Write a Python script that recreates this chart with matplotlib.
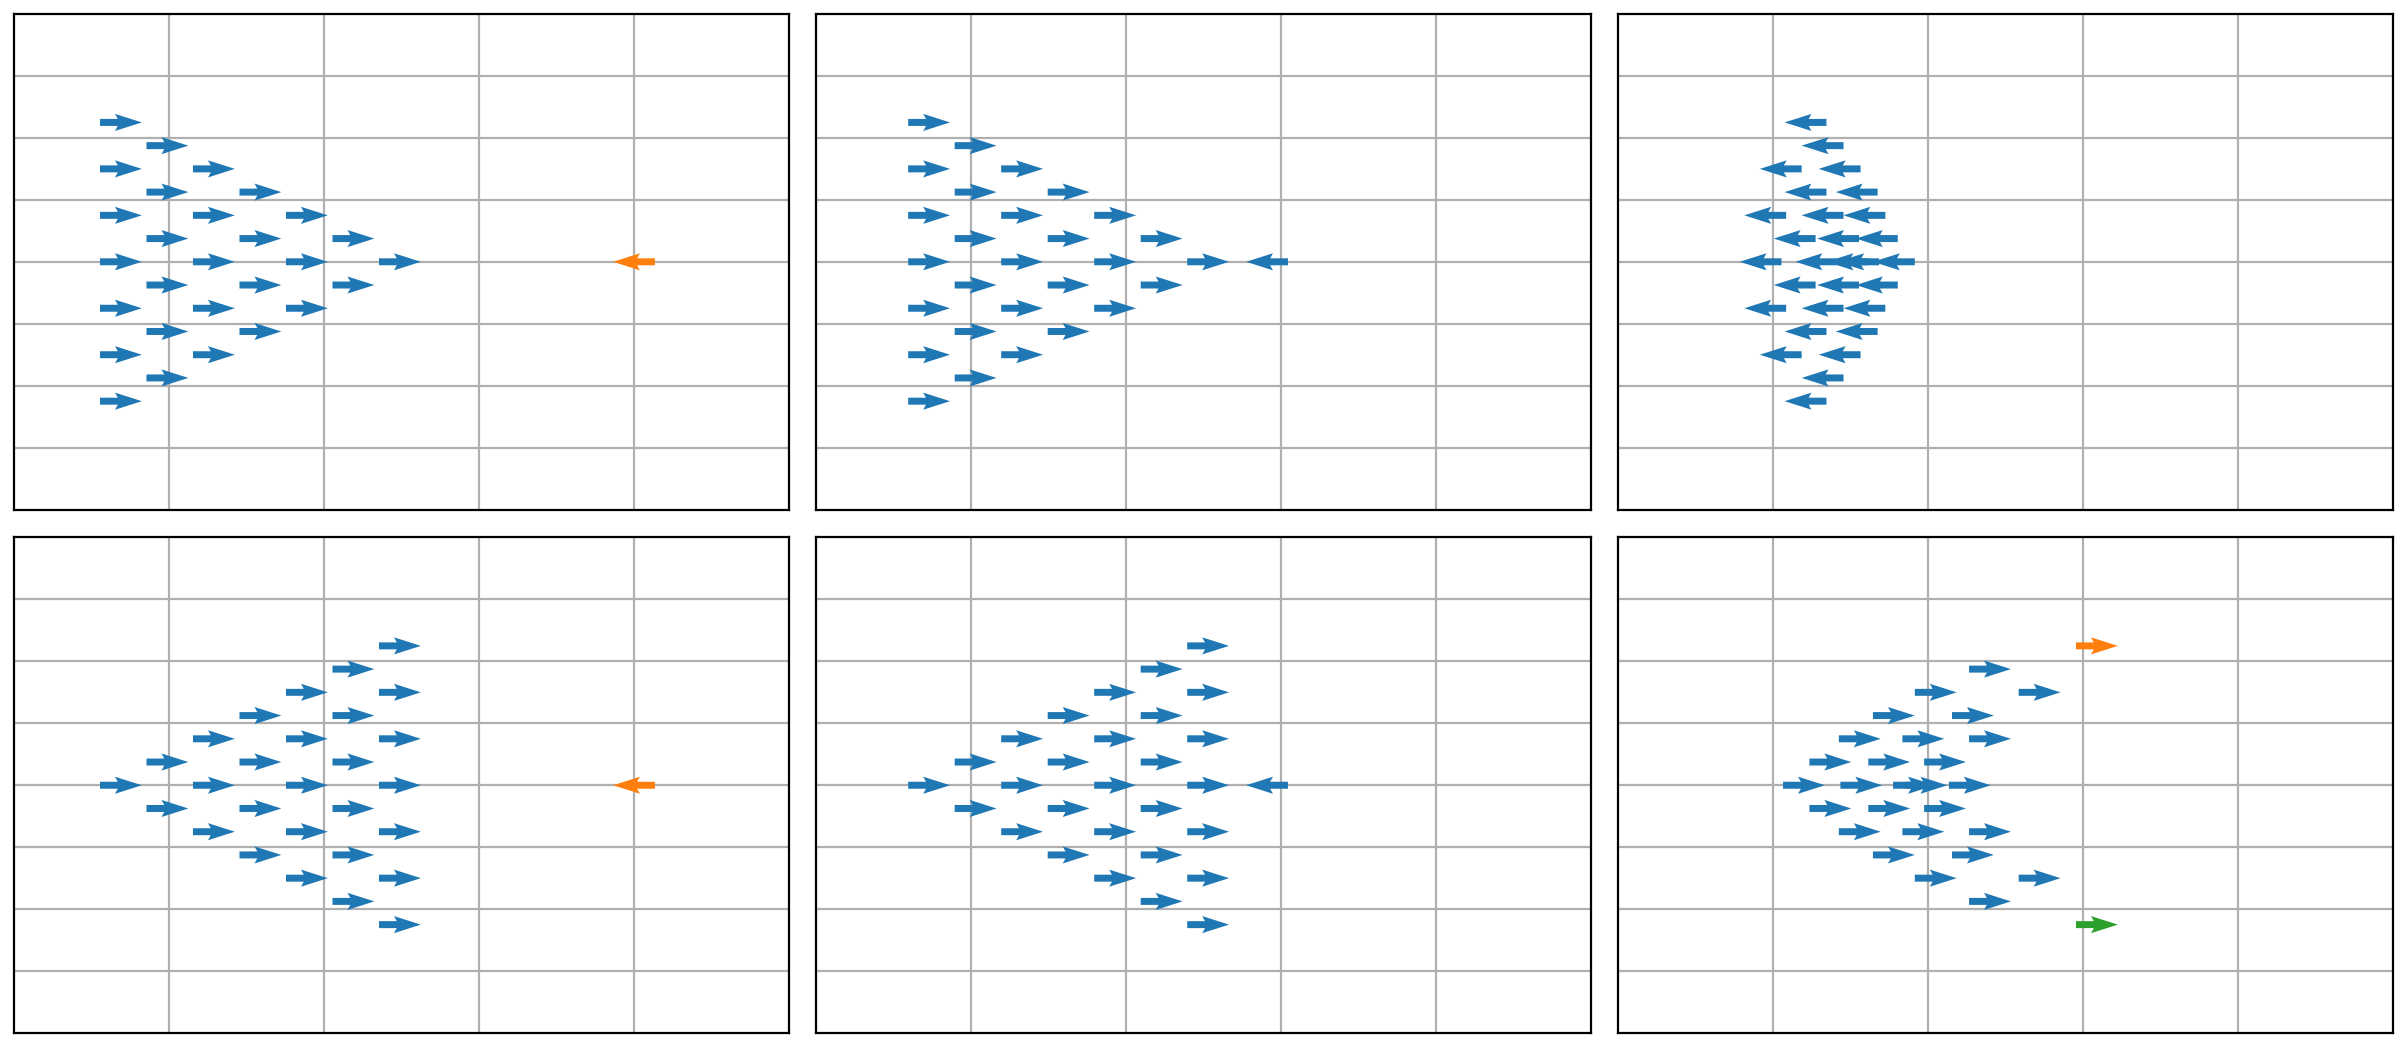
import numpy as np
import matplotlib
matplotlib.use('Agg')
import matplotlib.pyplot as plt

# Arrow positions read off the six snapshots (x, y, heading sign)
# panel 1: forward triangle, predator approaching from the right
p1_x = [0.69, 0.69, 0.69, 0.69, 0.69, 0.69, 0.69,
        0.99, 0.99, 0.99, 0.99, 0.99, 0.99,
        1.29, 1.29, 1.29, 1.29, 1.29,
        1.59, 1.59, 1.59, 1.59,
        1.89, 1.89, 1.89,
        2.19, 2.19,
        2.49]
p1_y = [2.25, 1.5, 0.75, 0.0, -0.75, -1.5, -2.25,
        1.875, 1.125, 0.375, -0.375, -1.125, -1.875,
        1.5, 0.75, 0.0, -0.75, -1.5,
        1.125, 0.375, -0.375, -1.125,
        0.75, 0.0, -0.75,
        0.375, -0.375,
        0.0]
p1_pred_x = [4.0]
p1_pred_y = [0.0]

# panel 2: same school a little further, predator (blue) close by
p2_x = [v + 0.04 for v in p1_x] + [2.91]
p2_y = p1_y + [0.0]
p2_dir = [1] * len(p1_x) + [-1]

# panel 3: school turned round and bunched up
p3_x = [1.21, 1.32, 1.05, 1.43, 1.21, 1.54, 0.95, 1.32, 1.59, 1.14, 1.42, 1.67,
        0.92, 1.28, 1.48, 1.55, 1.78,
        1.14, 1.42, 1.67, 0.95, 1.32, 1.59, 1.21, 1.54, 1.05, 1.43, 1.32, 1.21]
p3_y = [2.25, 1.875, 1.5, 1.5, 1.125, 1.125, 0.75, 0.75, 0.75, 0.375, 0.375, 0.375,
        0.0, 0.0, 0.0, 0.0, 0.0,
        -0.375, -0.375, -0.375, -0.75, -0.75, -0.75, -1.125, -1.125, -1.5, -1.5,
        -1.875, -2.25]

# panel 4: reversed triangle, predator on the right
p4_x = [0.69,
        0.99, 0.99,
        1.29, 1.29, 1.29,
        1.59, 1.59, 1.59, 1.59,
        1.89, 1.89, 1.89, 1.89, 1.89,
        2.19, 2.19, 2.19, 2.19, 2.19, 2.19,
        2.49, 2.49, 2.49, 2.49, 2.49, 2.49, 2.49]
p4_y = [0.0,
        0.375, -0.375,
        0.75, 0.0, -0.75,
        1.125, 0.375, -0.375, -1.125,
        1.5, 0.75, 0.0, -0.75, -1.5,
        1.875, 1.125, 0.375, -0.375, -1.125, -1.875,
        2.25, 1.5, 0.75, 0.0, -0.75, -1.5, -2.25]
p4_pred_x = [4.0]
p4_pred_y = [0.0]

# panel 5: reversed triangle moved on, predator (blue) close by
p5_x = [v + 0.04 for v in p4_x] + [2.91]
p5_y = p4_y + [0.0]
p5_dir = [1] * len(p4_x) + [-1]

# panel 6: school bunched, two highlighted fish
p6_x = [2.40, 2.05, 2.72, 1.78, 2.29, 1.56, 1.97, 2.40, 1.37, 1.75, 2.11,
        1.20, 1.57, 1.91, 1.99, 2.27,
        1.37, 1.75, 2.11, 1.56, 1.97, 2.40, 1.78, 2.29, 2.05, 2.72, 2.40]
p6_y = [1.875, 1.5, 1.5, 1.125, 1.125, 0.75, 0.75, 0.75, 0.375, 0.375, 0.375,
        0.0, 0.0, 0.0, 0.0, 0.0,
        -0.375, -0.375, -0.375, -0.75, -0.75, -0.75, -1.125, -1.125, -1.5, -1.5,
        -1.875]
p6_orange_x = [3.09]
p6_orange_y = [2.25]
p6_green_x = [3.09]
p6_green_y = [-2.25]

ARROW_LEN = 0.27


def arrows(ax, x, y, direction, color):
    x = np.asarray(x, dtype=float)
    y = np.asarray(y, dtype=float)
    u = ARROW_LEN * np.asarray(direction, dtype=float) * np.ones_like(x)
    v = np.zeros_like(x)
    ax.quiver(x, y, u, v, color=color, pivot='middle', angles='xy',
              scale_units='xy', scale=1, width=0.009,
              headwidth=2.45, headlength=3.85, headaxislength=3.45, zorder=3)


fig, axes = plt.subplots(2, 3, figsize=(12.03, 5.23), dpi=200)
fig.subplots_adjust(left=0.0058, right=0.9946, bottom=0.0124, top=0.9866,
                    wspace=0.0348, hspace=0.0563)

blue, orange, green = '#1f77b4', '#ff7f0e', '#2ca02c'

arrows(axes[0, 0], p1_x, p1_y, 1, blue)
arrows(axes[0, 0], p1_pred_x, p1_pred_y, -1, orange)
arrows(axes[0, 1], p2_x, p2_y, p2_dir, blue)
arrows(axes[0, 2], p3_x, p3_y, -1, blue)
arrows(axes[1, 0], p4_x, p4_y, 1, blue)
arrows(axes[1, 0], p4_pred_x, p4_pred_y, -1, orange)
arrows(axes[1, 1], p5_x, p5_y, p5_dir, blue)
arrows(axes[1, 2], p6_x, p6_y, 1, blue)
arrows(axes[1, 2], p6_orange_x, p6_orange_y, 1, orange)
arrows(axes[1, 2], p6_green_x, p6_green_y, 1, green)

for ax in axes.flat:
    ax.set_xlim(0, 5)
    ax.set_ylim(-4, 4)
    ax.set_xticks([1, 2, 3, 4])
    ax.set_yticks([-3, -2, -1, 0, 1, 2, 3])
    ax.tick_params(length=0, labelbottom=False, labelleft=False)
    ax.grid(True, color='#b0b0b0', linewidth=0.8)
    ax.set_axisbelow(True)

plt.savefig('out.png', dpi=200)
plt.close()
